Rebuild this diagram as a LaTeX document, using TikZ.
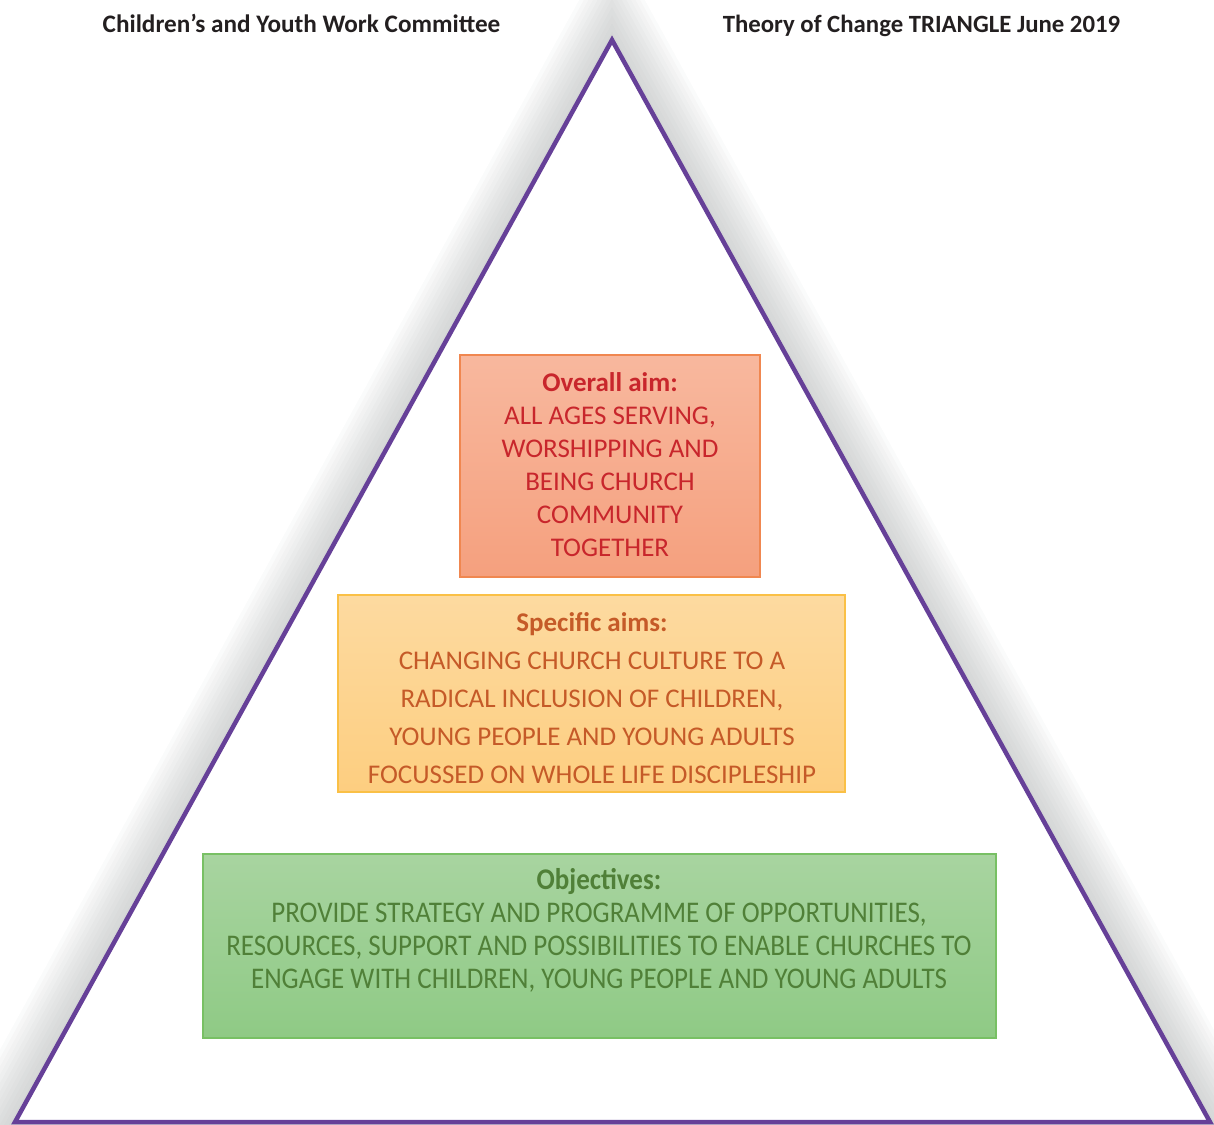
\documentclass[tikz,border=0pt]{standalone}
\usepackage{fontspec}
\usetikzlibrary{calc}
\setmainfont{Carlito}
\newfontfamily\narrowfont[FakeStretch=0.9]{Carlito}
\definecolor{triline}{RGB}{102,64,152}
\definecolor{haze}{RGB}{150,155,155}
\definecolor{headink}{RGB}{35,31,32}
\definecolor{aimtop}{RGB}{248,184,158}
\definecolor{aimbot}{RGB}{245,160,126}
\definecolor{aimedge}{RGB}{240,135,80}
\definecolor{aimtext}{RGB}{200,38,44}
\definecolor{spectop}{RGB}{253,218,160}
\definecolor{specbot}{RGB}{253,206,128}
\definecolor{specedge}{RGB}{250,192,70}
\definecolor{spectext}{RGB}{197,90,40}
\definecolor{objtop}{RGB}{168,212,160}
\definecolor{objbot}{RGB}{143,202,133}
\definecolor{objedge}{RGB}{120,192,100}
\definecolor{objtext}{RGB}{80,128,56}
\tikzset{
  tier/.style={rectangle, draw, line width=1.2pt, inner sep=0pt},
  label/.style={align=center, inner sep=0pt, font=\fontsize{27}{33}\selectfont},
  header/.style={inner sep=0pt, text=headink, font=\fontsize{25.2}{28}\selectfont\bfseries, anchor=base}
}
\begin{document}
\begin{tikzpicture}[x=1pt,y=-1pt]
\useasboundingbox (0,0) rectangle (1214,1124);
\clip (0,0) rectangle (1214,1124);
% soft grey halo round the triangle, built from widening layers
\foreach \d in {4,8,...,48}{
  \fill[haze, opacity=0.045]
    ($(612.5,769.4)!{1+\d/352.6}!(612,40)$) --
    ($(612.5,769.4)!{1+\d/352.6}!(15,1122)$) --
    ($(612.5,769.4)!{1+\d/352.6}!(1210,1122)$) -- cycle;
}
% the triangle
\coordinate (apex) at (612,40);
\coordinate (bl) at (15,1122);
\coordinate (br) at (1210,1122);
\fill[white] (apex) -- (bl) -- (br) -- cycle;
\draw[triline, line width=4.5pt, line join=miter] (apex) -- (bl) -- (br) -- cycle;

% header texts
\node[header] (committee) at (301.5,32.5) {Children’s and Youth Work Committee};
\node[header, font=\fontsize{24.8}{28}\selectfont\bfseries] (toc) at (921.5,32.5) {Theory of Change TRIANGLE June 2019};

% overall aim
\node[tier, draw=aimedge, top color=aimtop, bottom color=aimbot,
      minimum width=300pt, minimum height=222pt] (aim) at (610,466) {};
\node[label, text=aimtext] (aimtxt) at (610,465)
  {\textbf{Overall aim:}\\ALL AGES SERVING,\\WORSHIPPING AND\\BEING CHURCH\\COMMUNITY\\TOGETHER};

% specific aims
\node[tier, draw=specedge, top color=spectop, bottom color=specbot,
      minimum width=507pt, minimum height=197pt] (spec) at (591.5,693.5) {};
\node[label, text=spectext, font=\fontsize{27}{38}\selectfont] (spectxt) at (592,698)
  {\textbf{Specific aims:}\\CHANGING CHURCH CULTURE TO A\\RADICAL INCLUSION OF CHILDREN,\\YOUNG PEOPLE AND YOUNG ADULTS\\FOCUSSED ON WHOLE LIFE DISCIPLESHIP};

% objectives
\node[tier, draw=objedge, top color=objtop, bottom color=objbot,
      minimum width=793pt, minimum height=184pt] (obj) at (599.5,946) {};
\node[label, text=objtext, font=\fontsize{30}{33}\narrowfont] (objtxt) at (599,930)
  {\textbf{Objectives:}\\PROVIDE STRATEGY AND PROGRAMME OF OPPORTUNITIES,\\RESOURCES, SUPPORT AND POSSIBILITIES TO ENABLE CHURCHES TO\\ENGAGE WITH CHILDREN, YOUNG PEOPLE AND YOUNG ADULTS};
\end{tikzpicture}
\end{document}
